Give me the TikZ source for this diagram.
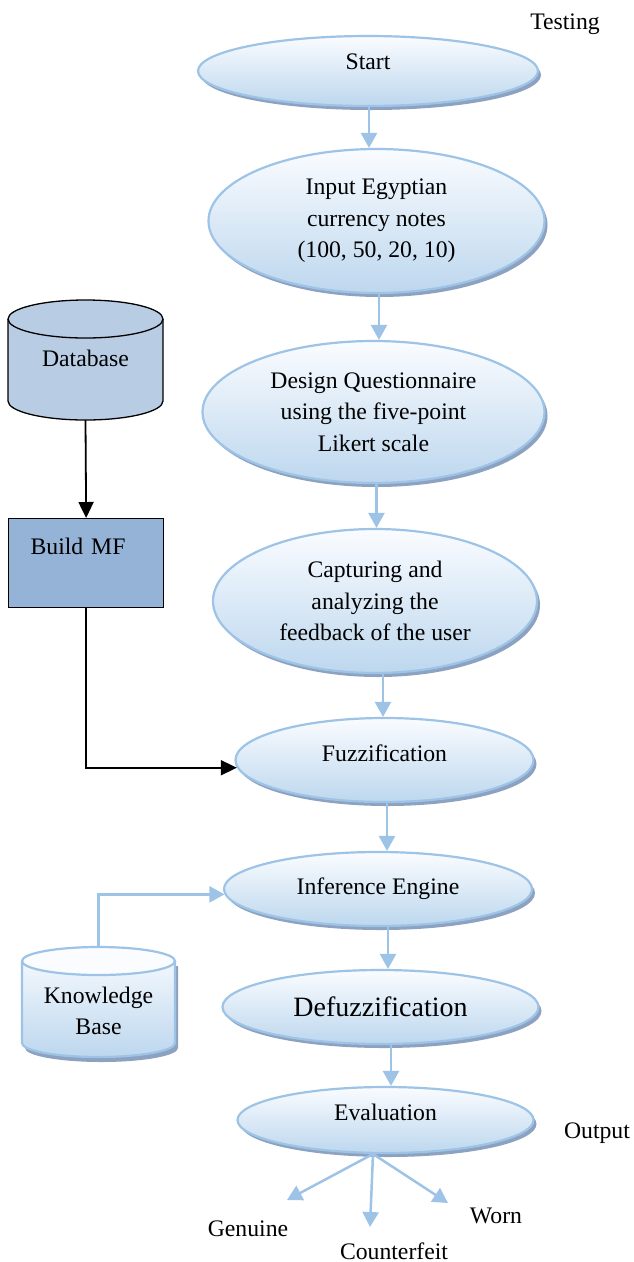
\documentclass[tikz,border=0pt]{standalone}
\usepackage{fontspec}
\setmainfont{Liberation Serif}
\usetikzlibrary{shapes.geometric,arrows.meta,shadows,calc}
\definecolor{bord}{RGB}{157,195,230}
\definecolor{gtop}{RGB}{250,252,255}
\definecolor{gbot}{RGB}{189,215,238}
\definecolor{shad}{RGB}{140,162,192}
\definecolor{dbfill}{RGB}{184,204,228}
\definecolor{mffill}{RGB}{149,179,215}
\begin{document}
\begin{tikzpicture}[x=1pt,y=-1pt,
  proc/.style={ellipse, draw=bord, line width=2.2pt, top color=gtop, bottom color=gbot,
    inner sep=0pt, align=center, font=\fontsize{23.7}{31.5}\selectfont,
    drop shadow={shadow xshift=3pt, shadow yshift=-4pt, fill=shad, opacity=1}},
  arr/.style={draw=bord, line width=2.5pt, -{Triangle[width=16pt,length=15pt]}},
  blk/.style={draw=black, line width=1.8pt, -{Triangle[width=15pt,length=16pt]}},
  lbl/.style={font=\fontsize{23.7}{31.5}\selectfont, inner sep=0pt, text height=16pt, text depth=0pt},
  txt/.style={font=\fontsize{23.7}{31.5}\selectfont, inner sep=0pt, align=center}
]
\useasboundingbox (0,0) rectangle (633,1262);

% ---- main flow ellipses
\node[proc, minimum width=340, minimum height=70, text depth=18pt] (st) at (368,71) {Start};
\node[proc, minimum width=336, minimum height=144] (inp) at (376.5,221) {Input Egyptian\\currency notes\\(100, 50, 20, 10)};
\node[proc, minimum width=342, minimum height=142] (des) at (373.5,412) {Design Questionnaire\\using the five-point\\Likert scale};
\node[proc, minimum width=324, minimum height=144] (cap) at (375,601) {Capturing and\\analyzing the\\feedback of the user};
\node[proc, minimum width=298, minimum height=84, text depth=14pt] (fz) at (384.5,760) {Fuzzification};
\node[proc, minimum width=308, minimum height=74, text depth=6pt] (inf) at (378,889) {Inference Engine};
\node[proc, minimum width=316, minimum height=74, font=\fontsize{28}{34}\selectfont] (dfz) at (380.5,1007) {Defuzzification};
\node[proc, minimum width=296, minimum height=66, text depth=16pt] (ev) at (385.5,1120) {Evaluation};

% ---- vertical arrows
\path ([xshift=1pt]st.south) coordinate (a1);
\draw[arr] (a1) -- (a1 |- inp.north);
\path ([xshift=2.5pt]inp.south) coordinate (a2);
\draw[arr] (a2) -- (a2 |- des.north);
\path ([xshift=1.5pt]cap.north) coordinate (a3);
\draw[arr] (a3 |- des.south) -- (a3);
\path ([xshift=-1.5pt]fz.north) coordinate (a4);
\draw[arr] (a4 |- cap.south) -- (a4);
\path ([xshift=2.5pt]fz.south) coordinate (a5);
\draw[arr] (a5) -- (a5 |- inf.north);
\path ([xshift=10pt]inf.south) coordinate (a6);
\draw[arr] (a6) -- (a6 |- dfz.north);
\path ([xshift=10.5pt]dfz.south) coordinate (a7);
\draw[arr] (a7) -- (a7 |- ev.north);

% ---- Database cylinder
\fill[dbfill] (8,319) -- (8,401) arc[start angle=180,end angle=0,x radius=77.5,y radius=19]
  -- (163,319) arc[start angle=0,end angle=-180,x radius=77.5,y radius=19] -- cycle;
\draw[black, line width=1.3pt] (8,319) -- (8,401) arc[start angle=180,end angle=0,x radius=77.5,y radius=19] -- (163,319);
\draw[black, line width=1.3pt] (85.5,319) ellipse[x radius=77.5,y radius=19];
\node[txt, minimum width=155, minimum height=124] (db) at (85.5,358) {Database};

% ---- Build MF box
\node[draw=black, line width=1.3pt, fill=mffill, anchor=north west, minimum height=89,
  inner xsep=22pt, text width=111pt, align=left, text height=17pt, text depth=35pt,
  font=\fontsize{23.7}{31.5}\selectfont] (mf) at (8,518) {Build MF};

\draw[blk] (db.south) -- (mf.north);
\draw[blk] (mf.south) |- (fz.183);

% ---- Knowledge Base cylinder
\fill[shad] (25,966) -- (25,1048) arc[start angle=180,end angle=0,x radius=76.5,y radius=14]
  -- (178,966) -- cycle;
\path[top color=gtop, bottom color=gbot] (22,961) -- (22,1043) arc[start angle=180,end angle=0,x radius=76.5,y radius=14]
  -- (175,961) arc[start angle=0,end angle=-180,x radius=76.5,y radius=14] -- cycle;
\draw[bord, line width=2.2pt] (22,961) -- (22,1043) arc[start angle=180,end angle=0,x radius=76.5,y radius=14] -- (175,961);
\draw[bord, line width=2.2pt, fill=gtop] (98.5,961) ellipse[x radius=76.5,y radius=14];
\node[txt, minimum width=153, minimum height=126] (kb) at (98.5,1011) {Knowledge\\Base};

\draw[arr] (kb.north) |- (inf.182);

% ---- outputs
\coordinate (evb) at (373,1154);
\coordinate (t1) at (287,1200);
\coordinate (t2) at (370,1227);
\coordinate (t3) at (448,1203);
\node[lbl] (gen) at (248,1228) {Genuine};
\node[lbl] (cf) at (394,1251) {Counterfeit};
\node[lbl] (worn) at (496,1215) {Worn};
\draw[arr] (evb) -- (t1);
\draw[arr] (evb) -- (t2);
\draw[arr] (evb) -- (t3);

\node[lbl] (testing) at (565,21) {Testing};
\node[lbl] (output) at (597,1130) {Output};
\end{tikzpicture}
\end{document}
